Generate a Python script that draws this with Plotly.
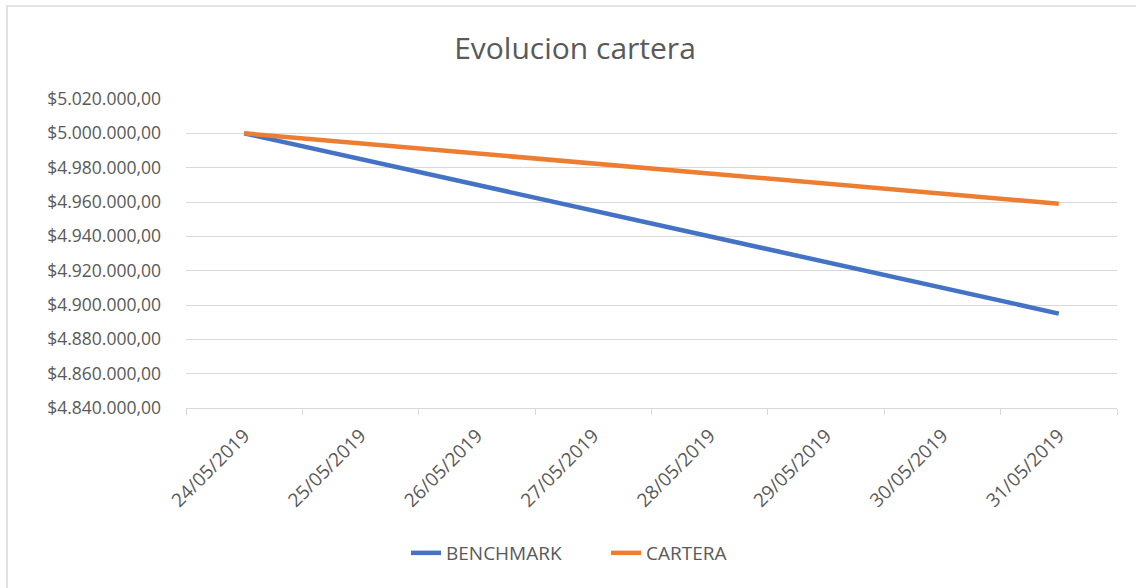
import plotly.graph_objects as go

# ── datos ────────────────────────────────────────────────────────────────────
fechas = ["24/05/2019", "25/05/2019", "26/05/2019", "27/05/2019",
          "28/05/2019", "29/05/2019", "30/05/2019", "31/05/2019"]
benchmark = [5000000, 4985000, 4970000, 4955000, 4940000, 4925000, 4910000, 4895000]
cartera = [5000000, 4994100, 4988300, 4982400, 4976600, 4970700, 4964900, 4959000]
y_ticks = [4840000, 4860000, 4880000, 4900000, 4920000, 4940000,
           4960000, 4980000, 5000000, 5020000]


def fmt_pesos(v):
    # formato es: $5.020.000,00
    s = f"{v:,.2f}"
    return "$" + s.replace(",", "X").replace(".", ",").replace("X", ".")


FONT = "Open Sans"
GRIS = "#595959"
LINEA = "#d9d9d9"

fig = go.Figure()
fig.add_trace(go.Scatter(x=fechas, y=benchmark, name="BENCHMARK", mode="lines",
                         line=dict(color="#4472c4", width=4.5)))
fig.add_trace(go.Scatter(x=fechas, y=cartera, name="CARTERA", mode="lines",
                         line=dict(color="#ed7d31", width=4.5)))

fig.update_layout(
    width=1136, height=588,
    paper_bgcolor="white", plot_bgcolor="white",
    margin=dict(l=186, r=19, t=99, b=180),
    title=dict(text="Evolucion cartera", x=575 / 1136, xanchor="center",
               y=1 - 48 / 588, yanchor="middle",
               font=dict(family=FONT, size=30, color=GRIS)),
    font=dict(family=FONT, size=17, color=GRIS),
    showlegend=True,
    legend=dict(orientation="h", x=(406 - 186) / 931, xanchor="left",
                y=-(553 - 408) / 309, yanchor="middle", entrywidth=155,
                font=dict(size=19, color=GRIS)),
    shapes=[dict(type="rect", xref="paper", yref="paper",
                 x0=(7 - 186) / 931, x1=1.1, y0=-0.7, y1=1 + (99 - 6) / 309,
                 line=dict(color=LINEA, width=1.5), fillcolor="rgba(0,0,0,0)")],
)

fig.update_xaxes(
    type="category", range=[-0.5, len(fechas) - 0.5],
    tickson="boundaries", ticks="outside", ticklen=6, tickcolor=LINEA,
    showline=True, linecolor=LINEA, linewidth=1,
    showgrid=False, tickangle=-45, ticklabelstandoff=8,
    tickfont=dict(family=FONT, size=19, color=GRIS),
)
fig.update_yaxes(
    range=[4840000, 5020000],
    tickvals=y_ticks, ticktext=[fmt_pesos(v) for v in y_ticks],
    showgrid=True, gridcolor=LINEA, gridwidth=1,
    zeroline=False, showline=False, ticks="",
    ticklabelstandoff=24,
    tickfont=dict(family=FONT, size=17.5, color=GRIS),
)

# sin margen en el body para que la figura empiece en (0, 0)
fig.write_html("out.html", config={"displayModeBar": False},
               post_script="document.body.style.margin='0';")
